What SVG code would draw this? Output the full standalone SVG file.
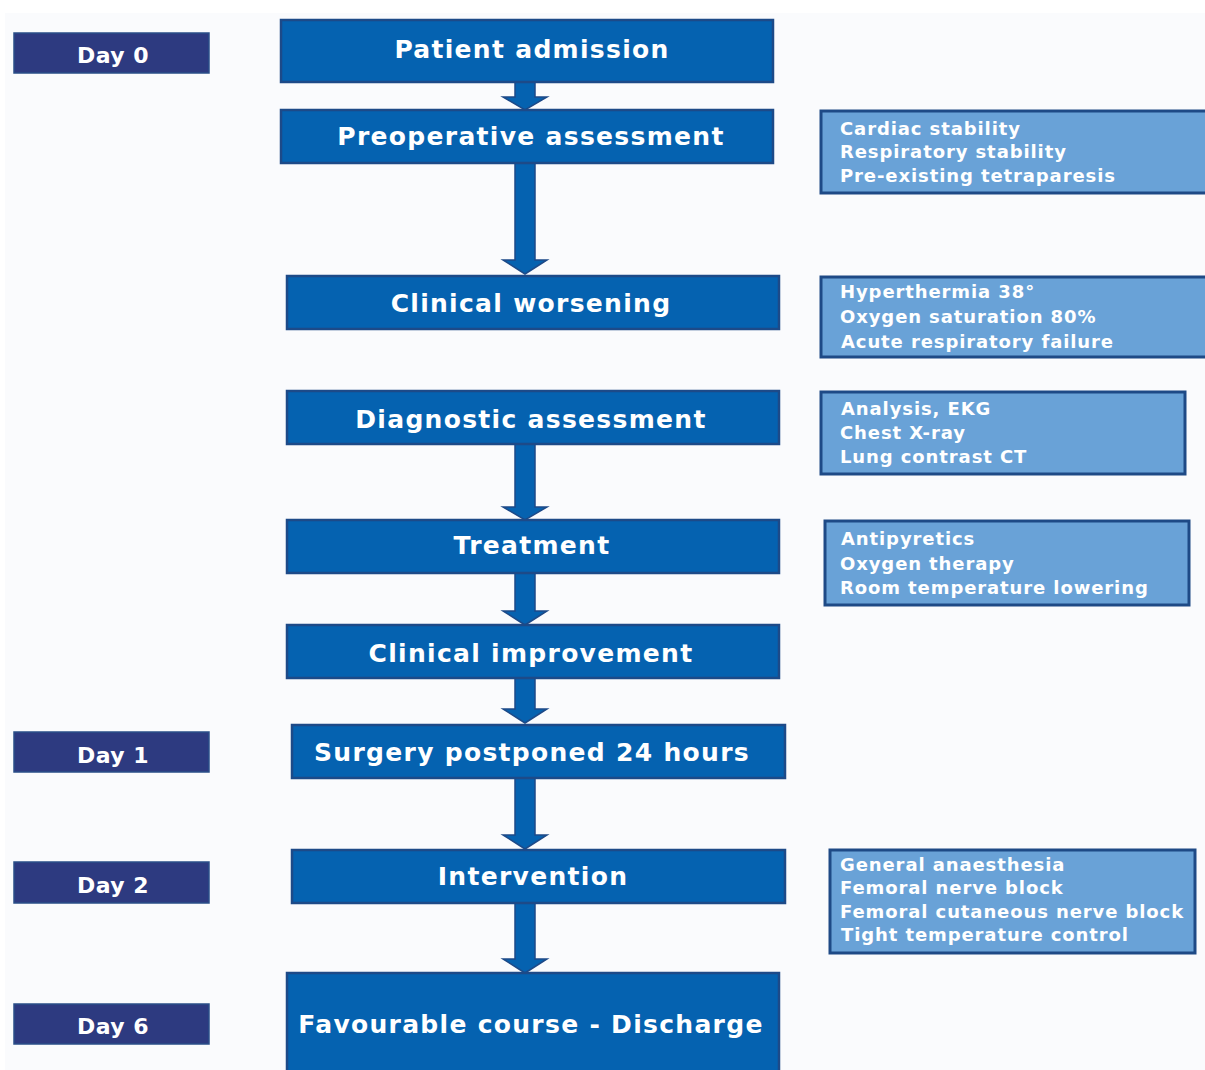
<svg xmlns="http://www.w3.org/2000/svg" width="1205" height="1070" viewBox="0 0 1205 1070">
<defs>
<style>
.main{fill:#0562b0;stroke:#1d4a88;stroke-width:2.5}
.day{fill:#2d3a80;stroke:#2a4f88;stroke-width:1.5}
.side{fill:#69a2d7;stroke:#1e4a86;stroke-width:3}
.arrow{fill:#0562b0;stroke:#1d4a88;stroke-width:1.5}
text{font-family:"DejaVu Sans","Liberation Sans",sans-serif;font-weight:bold;fill:#ffffff}
.mt{font-size:25px;letter-spacing:1.3px;text-anchor:middle}
.dt{font-size:22px;letter-spacing:0.5px;text-anchor:middle}
.st{font-size:18px;letter-spacing:0.9px}
</style>
</defs>
<rect x="0" y="0" width="1205" height="1070" fill="#ffffff"/>
<rect x="5" y="13" width="1200" height="1057" fill="#fafbfd"/>

<g id="connectors">
<path class="arrow" d="M515,82 L535,82 L535,97 L547,97 L525,110 L503,97 L515,97 Z"/>
<path class="arrow" d="M515,163 L535,163 L535,260 L547,260 L525,274 L503,260 L515,260 Z"/>
<path class="arrow" d="M515,444 L535,444 L535,507 L547,507 L525,520 L503,507 L515,507 Z"/>
<path class="arrow" d="M515,573 L535,573 L535,611 L547,611 L525,625 L503,611 L515,611 Z"/>
<path class="arrow" d="M515,678 L535,678 L535,709 L547,709 L525,723 L503,709 L515,709 Z"/>
<path class="arrow" d="M515,778 L535,778 L535,835 L547,835 L525,849 L503,835 L515,835 Z"/>
<path class="arrow" d="M515,903 L535,903 L535,959 L547,959 L525,973 L503,959 L515,959 Z"/>
</g>

<g id="day0"><rect class="day" x="14" y="33" width="195" height="40"/><text class="dt" x="113" y="63">Day 0</text></g>
<g id="day1"><rect class="day" x="14" y="732" width="195" height="40"/><text class="dt" x="113" y="763">Day 1</text></g>
<g id="day2"><rect class="day" x="14" y="862" width="195" height="41"/><text class="dt" x="113" y="893">Day 2</text></g>
<g id="day6"><rect class="day" x="14" y="1004" width="195" height="40"/><text class="dt" x="113" y="1034">Day 6</text></g>

<g id="admission"><rect class="main" x="281" y="20" width="492" height="62"/><text class="mt" x="532" y="58">Patient admission</text></g>
<g id="preop"><rect class="main" x="281" y="110" width="492" height="53"/><text class="mt" x="531" y="145">Preoperative assessment</text></g>
<g id="worsening"><rect class="main" x="287" y="276" width="492" height="53"/><text class="mt" x="531" y="312">Clinical worsening</text></g>
<g id="diagnostic"><rect class="main" x="287" y="391" width="492" height="53"/><text class="mt" x="531" y="428">Diagnostic assessment</text></g>
<g id="treatment"><rect class="main" x="287" y="520" width="492" height="53"/><text class="mt" x="532" y="554">Treatment</text></g>
<g id="improvement"><rect class="main" x="287" y="625" width="492" height="53"/><text class="mt" x="531" y="662">Clinical improvement</text></g>
<g id="postponed"><rect class="main" x="292" y="725" width="493" height="53"/><text class="mt" x="532" y="761">Surgery postponed 24 hours</text></g>
<g id="intervention"><rect class="main" x="292" y="850" width="493" height="53"/><text class="mt" x="533" y="885">Intervention</text></g>
<g id="discharge"><rect class="main" x="287" y="973" width="492" height="110"/><text class="mt" x="531" y="1033">Favourable course - Discharge</text></g>

<g id="side-preop"><rect class="side" x="821" y="111" width="390" height="82"/>
<text class="st" x="840" y="135">Cardiac stability</text>
<text class="st" x="840" y="158">Respiratory stability</text>
<text class="st" x="840" y="182">Pre-existing tetraparesis</text></g>
<g id="side-worsening"><rect class="side" x="821" y="277" width="390" height="80"/>
<text class="st" x="840" y="298">Hyperthermia 38°</text>
<text class="st" x="840" y="323">Oxygen saturation 80%</text>
<text class="st" x="841" y="348">Acute respiratory failure</text></g>
<g id="side-diagnostic"><rect class="side" x="821" y="392" width="364" height="82"/>
<text class="st" x="841" y="415">Analysis, EKG</text>
<text class="st" x="840" y="439">Chest X-ray</text>
<text class="st" x="840" y="463">Lung contrast CT</text></g>
<g id="side-treatment"><rect class="side" x="825" y="521" width="364" height="84"/>
<text class="st" x="841" y="545">Antipyretics</text>
<text class="st" x="840" y="570">Oxygen therapy</text>
<text class="st" x="840" y="594">Room temperature lowering</text></g>
<g id="side-intervention"><rect class="side" x="830" y="850" width="365" height="103"/>
<text class="st" x="840" y="871">General anaesthesia</text>
<text class="st" x="840" y="894">Femoral nerve block</text>
<text class="st" x="840" y="918">Femoral cutaneous nerve block</text>
<text class="st" x="841" y="941">Tight temperature control</text></g>
</svg>
